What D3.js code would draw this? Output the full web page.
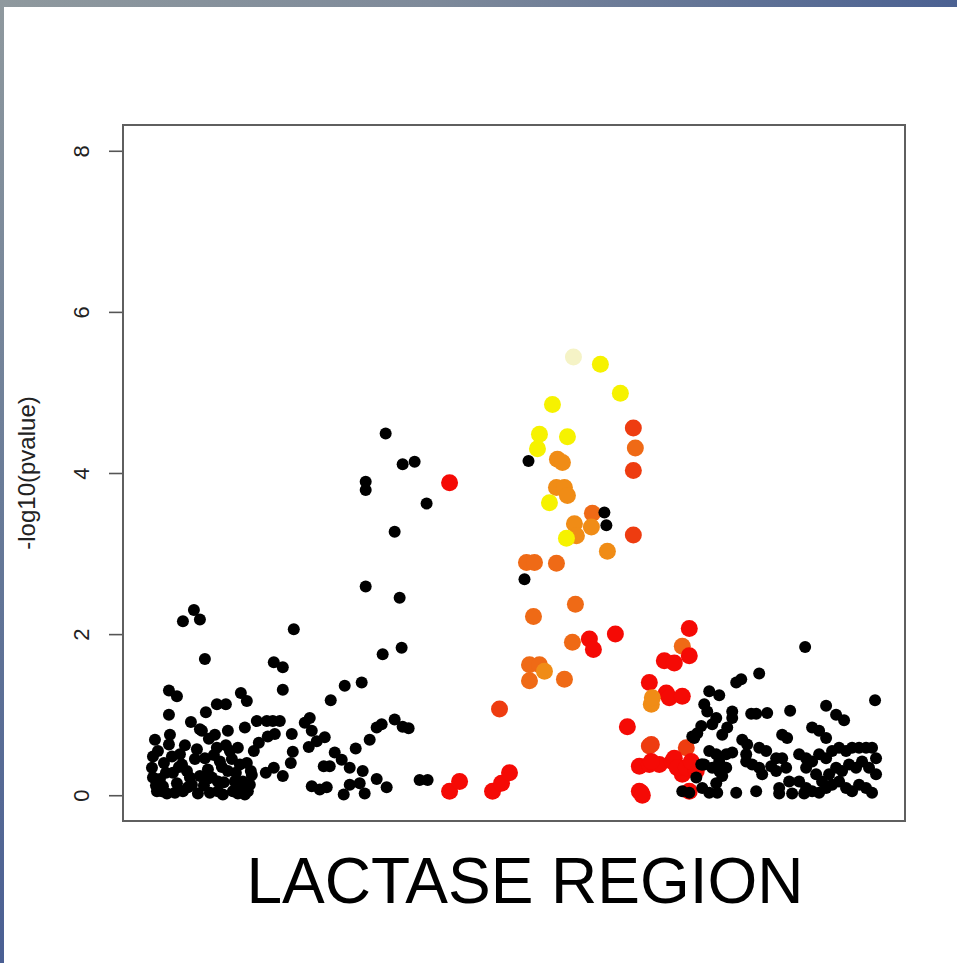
<!DOCTYPE html>
<html>
<head>
<meta charset="utf-8">
<script src="https://cdn.jsdelivr.net/npm/d3@7"></script>
<style>
  html, body { margin: 0; padding: 0; background: #ffffff; }
  svg { display: block; }
  text { font-family: "Liberation Sans", Arial, Helvetica, sans-serif; }
</style>
</head>
<body>
<svg id="chart" width="957" height="963"></svg>
<script>
// SNPs without linkage to the peak marker: position (kb) and -log10(p)
const blackPos = [
  234, 251, 263, 214, 214, 275, 243, 214, 248, 250, 231, 142, 31, 42, 48, 53, 122, 131, 131, 17,
  25, 17, 39, 50, 54, 65, 74, 76, 93, 89, 95, 105, 115, 121, 128, 107, 116, 123, 140, 153,
  158, 160, 173, 165, 157, 179, 193, 210, 183, 190, 198, 204, 218, 225, 230, 243, 251, 257, 141, 139,
  114, 122, 131, 172, 178, 160, 168, 175, 192, 198, 208, 213, 211, 225, 235, 268, 276,
  3, 6, 1, 0, 1, 5, 11, 18, 17, 21, 23, 28, 35, 31, 40, 45, 48, 48, 53, 56,
  58, 63, 65, 66, 68, 71, 76, 78, 81, 83, 86, 88, 91, 93, 96, 98,
  12, 8, 14, 25, 30, 38, 43, 52, 60, 62, 70, 74, 80, 84, 90, 95, 100, 57, 66, 33, 20, 10, 46, 102,
  4, 15, 27, 36, 55, 72, 86, 99,
  377, 453, 455, 373,
  654, 724, 608, 585, 590, 558, 568, 553, 556, 581, 581, 600, 605, 616, 639, 675, 685, 693, 565, 561,
  550, 546, 543, 576, 571, 591, 596, 595, 608, 615, 631, 636, 661, 668, 675, 558, 565, 568, 575, 581,
  553, 561, 568, 575, 595, 601, 608, 625, 631, 635, 625, 620, 648, 655, 655, 661, 668, 675, 681, 688,
  695, 701, 708, 715, 721, 665, 671, 678, 685, 691, 698, 705, 711, 718, 725, 648, 655, 661, 668, 675,
  681, 688, 695, 701, 708, 715, 721, 725, 545, 551, 558, 566, 565, 571, 585, 605, 611, 628, 638, 628,
  641, 653, 531, 538, 550, 541, 551
];
const blackLogP = [
  4.49, 4.11, 4.14, 3.89, 3.79, 3.62, 3.27, 2.59, 2.45, 1.83, 1.75, 2.06, 2.16, 2.30, 2.18, 1.69, 1.65, 1.59, 1.31, 1.30,
  1.23, 1.00, 0.91, 0.80, 1.03, 1.13, 1.13, 0.80, 0.84, 1.27, 1.17, 0.92, 0.92, 0.92, 0.92, 0.65, 0.73, 0.76, 0.76, 0.90,
  0.96, 0.80, 0.72, 0.67, 0.60, 1.18, 1.36, 1.40, 0.53, 0.44, 0.34, 0.58, 0.69, 0.84, 0.88, 0.94, 0.85, 0.83, 0.54, 0.40,
  0.28, 0.34, 0.24, 0.36, 0.36, 0.11, 0.07, 0.10, 0.01, 0.13, 0.15, 0.02, 0.30, 0.20, 0.10, 0.19, 0.19,
  0.69, 0.55, 0.48, 0.34, 0.22, 0.05, 0.11, 0.75, 0.63, 0.28, 0.03, 0.51, 0.30, 0.05, 0.13, 0.57, 0.24, 0.82, 0.46, 0.32,
  0.03, 0.75, 0.59, 0.17, 0.42, 0.01, 0.30, 0.55, 0.05, 0.17, 0.59, 0.38, 0.17, 0.01, 0.05, 0.13,
  0.40, 0.20, 0.28, 0.15, 0.38, 0.22, 0.45, 0.12, 0.22, 0.50, 0.35, 0.62, 0.45, 0.28, 0.08, 0.40, 0.25, 0.70, 0.05, 0.62, 0.48, 0.05, 0.02, 0.55,
  0.12, 0.02, 0.35, 0.10, 0.20, 0.16, 0.02, 0.30,
  4.15, 3.51, 3.35, 2.68,
  1.84, 1.18, 1.51, 1.40, 1.44, 1.29, 1.24, 1.13, 1.04, 1.04, 0.96, 1.01, 1.01, 1.02, 1.05, 1.11, 1.00, 0.93, 0.96, 0.88,
  0.86, 0.77, 0.71, 0.84, 0.75, 0.69, 0.63, 0.51, 0.59, 0.55, 0.75, 0.71, 0.84, 0.80, 0.71, 0.55, 0.51, 0.42, 0.51, 0.53,
  0.38, 0.34, 0.30, 0.34, 0.42, 0.38, 0.34, 0.46, 0.46, 0.34, 0.30, 0.36, 0.51, 0.46, 0.34, 0.42, 0.51, 0.46, 0.55, 0.59,
  0.55, 0.59, 0.59, 0.59, 0.59, 0.26, 0.17, 0.26, 0.34, 0.30, 0.38, 0.34, 0.42, 0.34, 0.46, 0.17, 0.09, 0.05, 0.03, 0.09,
  0.13, 0.17, 0.09, 0.05, 0.13, 0.09, 0.03, 0.26, 0.22, 0.09, 0.03, 0.03, 0.15, 0.24, 0.03, 0.05, 0.26, 0.09, 0.17, 0.02,
  0.02, 0.02, 0.05, 0.03, 0.38, 0.73, 0.38
];

// SNPs in linkage with the peak marker: position (kb), -log10(p), r² class (1 = weak … 6 = strongest)
const ldPos = [
  422, 449, 469, 401, 388, 416, 386, 406, 411, 482, 484, 482, 298, 405, 413, 416, 398, 441, 440, 423,
  425, 415, 482, 456, 375, 383, 405, 424, 382, 421, 438, 442, 464, 378, 388, 393, 378, 413, 348, 476,
  298, 308, 341, 350, 358, 490, 488, 498, 508, 498, 498, 515, 518, 531, 500, 501, 513, 523, 531, 538,
  538, 521, 528, 535, 531, 538, 541, 523, 526, 535, 545, 540, 488, 491, 500, 500
];
const ldLogP = [
  5.44, 5.35, 4.99, 4.85, 4.48, 4.45, 4.30, 4.17, 4.13, 4.56, 4.31, 4.03, 3.88, 3.82, 3.82, 3.72, 3.63, 3.50, 3.33, 3.37,
  3.22, 3.19, 3.23, 3.03, 2.89, 2.89, 2.88, 2.37, 2.22, 1.90, 1.94, 1.81, 2.00, 1.62, 1.62, 1.54, 1.42, 1.44, 1.07, 0.85,
  0.05, 0.17, 0.05, 0.15, 0.28, 0.03, 0.36, 0.38, 0.38, 0.61, 1.40, 1.27, 1.21, 1.23, 1.13, 1.21, 1.67, 1.64, 1.85, 1.73,
  2.07, 0.42, 0.34, 0.59, 0.26, 0.05, 0.38, 0.46, 0.34, 0.34, 0.30, 0.42, 0.05, 0.00, 0.63, 0.42
];
const ldLevel = [
  6, 5, 5, 5, 5, 5, 5, 4, 4, 2, 3, 2, 1, 4, 4, 4, 5, 3, 4, 4,
  4, 5, 2, 4, 3, 3, 3, 3, 3, 3, 1, 1, 1, 3, 3, 4, 3, 3, 2, 1,
  1, 1, 1, 1, 1, 1, 1, 1, 1, 2, 1, 1, 1, 1, 4, 4, 1, 1, 3, 1,
  1, 1, 1, 2, 1, 1, 1, 1, 1, 1, 1, 1, 1, 1, 2, 1
];
// heat-style palette indexed by r² class
const ldColors = [null, "#f50a05", "#ee3c10", "#ef6a16", "#f08c16", "#f6f200", "#f5f3c6"];

const yTicks = [0, 2, 4, 6, 8];
const yLimits = [0, 8];
const yTitle = "-log10(pvalue)";
const regionTitle = "LACTASE REGION";

const svg = d3.select("#chart");
const W = 957, H = 963;

// slide frame: gradient bands along the top and left edges
const defs = svg.append("defs");
const gTop = defs.append("linearGradient").attr("id", "bandTop")
  .attr("x1", "0%").attr("x2", "100%").attr("y1", "0%").attr("y2", "0%");
gTop.append("stop").attr("offset", "0%").attr("stop-color", "#8f999e");
gTop.append("stop").attr("offset", "45%").attr("stop-color", "#7e8a9a");
gTop.append("stop").attr("offset", "100%").attr("stop-color", "#4b6192");
const gLeft = defs.append("linearGradient").attr("id", "bandLeft")
  .attr("x1", "0%").attr("x2", "0%").attr("y1", "0%").attr("y2", "100%");
gLeft.append("stop").attr("offset", "0%").attr("stop-color", "#8f999e");
gLeft.append("stop").attr("offset", "50%").attr("stop-color", "#6a7c98");
gLeft.append("stop").attr("offset", "100%").attr("stop-color", "#4a5f93");

svg.append("rect").attr("x", 0).attr("y", 0).attr("width", W).attr("height", H).attr("fill", "#ffffff");
svg.append("rect").attr("x", 0).attr("y", 0).attr("width", W).attr("height", 7).attr("fill", "url(#bandTop)");
svg.append("rect").attr("x", 0).attr("y", 0).attr("width", 4).attr("height", H).attr("fill", "url(#bandLeft)");

// plot region
const plot = { left: 123, right: 905, top: 125, bottom: 821 };

const allPos = blackPos.concat(ldPos);
const [pMin, pMax] = d3.extent(allPos);
const xPad = (pMax - pMin) * 0.04;
const x = d3.scaleLinear().domain([pMin - xPad, pMax + xPad]).range([plot.left, plot.right]);
const yPad = (yLimits[1] - yLimits[0]) * 0.04;
const y = d3.scaleLinear().domain([yLimits[0] - yPad, yLimits[1] + yPad]).range([plot.bottom, plot.top]);

// points: linked SNPs first, unlinked black SNPs on top
const ldData = ldPos.map((p, i) => ({ pos: p, v: ldLogP[i], lv: ldLevel[i] }));
svg.append("g").selectAll("circle").data(ldData).join("circle")
  .attr("cx", d => x(d.pos)).attr("cy", d => y(d.v)).attr("r", 8.5)
  .attr("fill", d => ldColors[d.lv]);

const blackData = blackPos.map((p, i) => ({ pos: p, v: blackLogP[i] }));
svg.append("g").selectAll("circle").data(blackData).join("circle")
  .attr("cx", d => x(d.pos)).attr("cy", d => y(d.v)).attr("r", 6)
  .attr("fill", "#000000");

// y axis ticks and rotated labels
const yAxis = d3.axisLeft(y).tickValues(yTicks).tickSize(14).tickFormat(d3.format("d"));
const axG = svg.append("g").attr("transform", `translate(${plot.left},0)`).call(yAxis);
axG.select(".domain").remove();
axG.selectAll(".tick line").attr("stroke", "#555555").attr("stroke-width", 1.6);
axG.selectAll(".tick text")
  .attr("x", 0).attr("y", -34).attr("dy", null)
  .attr("transform", "rotate(-90)")
  .attr("text-anchor", "middle")
  .attr("fill", "#222222")
  .style("font-size", "22px");

// frame around the plot
svg.append("rect")
  .attr("x", plot.left).attr("y", plot.top)
  .attr("width", plot.right - plot.left).attr("height", plot.bottom - plot.top)
  .attr("fill", "none").attr("stroke", "#5f5f5f").attr("stroke-width", 2);

// axis title
svg.append("text")
  .attr("transform", `translate(35,${(plot.top + plot.bottom) / 2}) rotate(-90)`)
  .attr("text-anchor", "middle")
  .attr("fill", "#222222")
  .style("font-size", "24px")
  .text(yTitle);

// region caption
svg.append("text")
  .attr("x", 525).attr("y", 903)
  .attr("text-anchor", "middle")
  .attr("fill", "#000000")
  .style("font-size", "64px")
  .text(regionTitle);
</script>
</body>
</html>
